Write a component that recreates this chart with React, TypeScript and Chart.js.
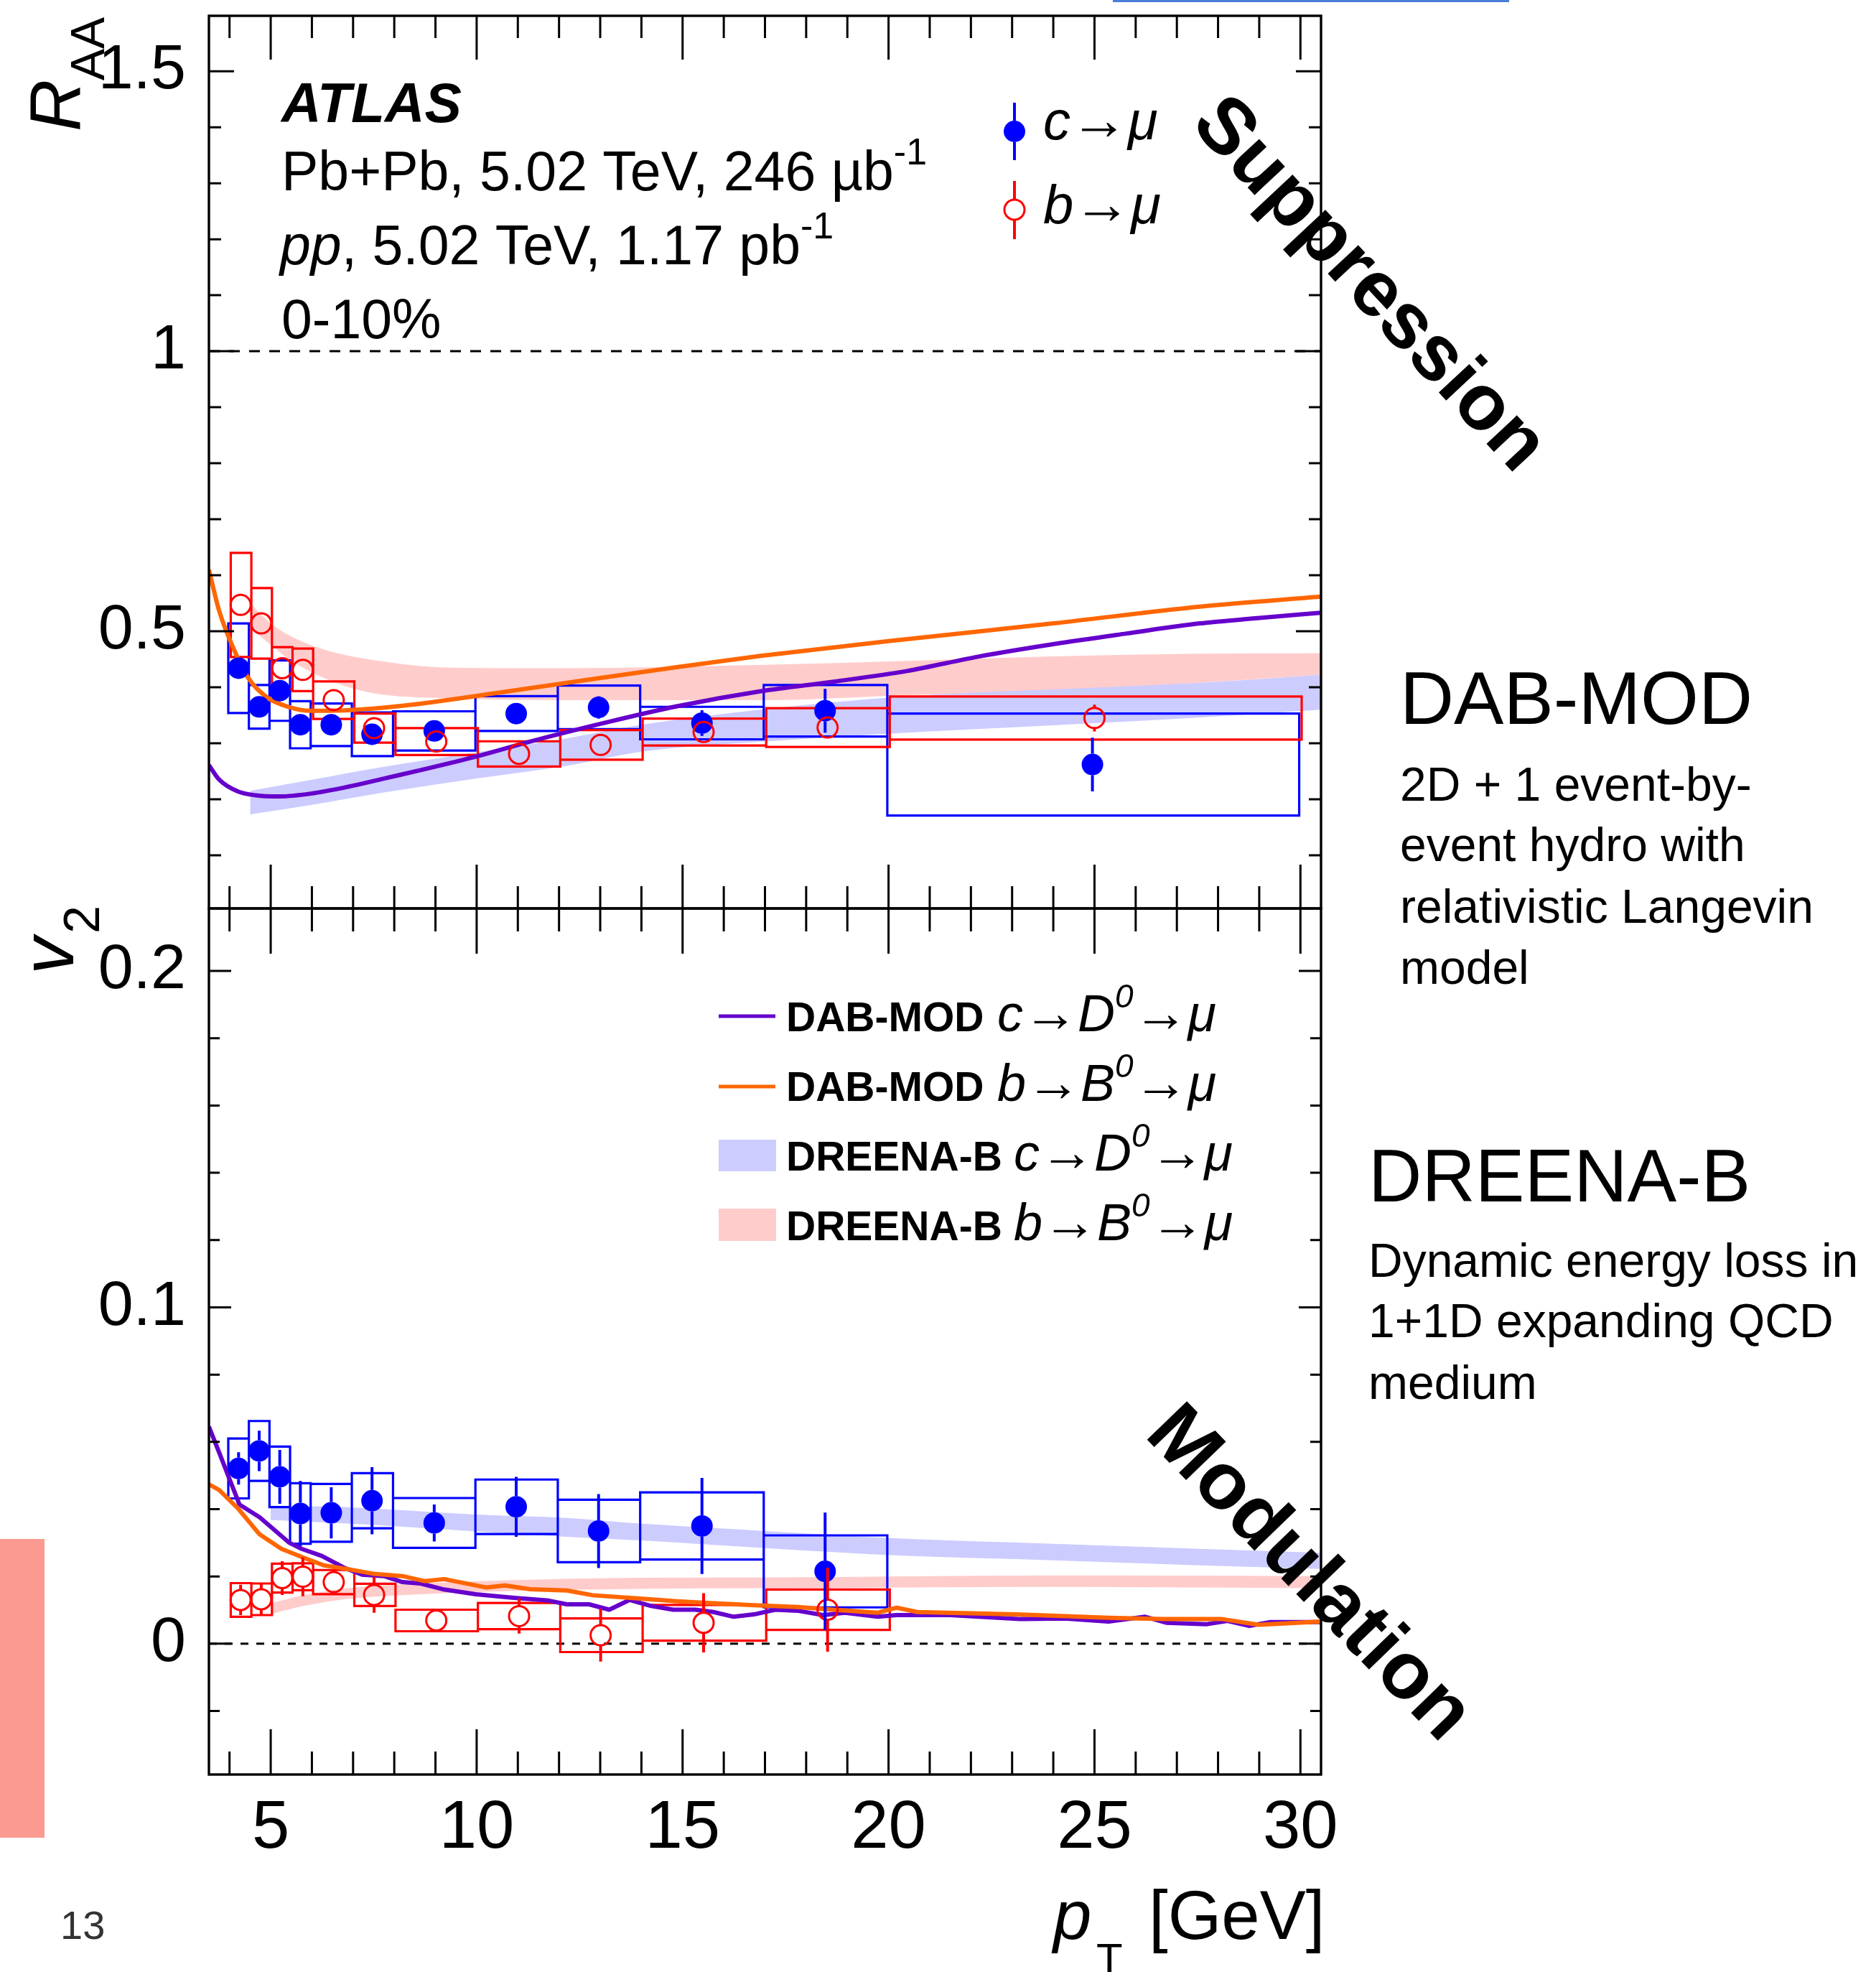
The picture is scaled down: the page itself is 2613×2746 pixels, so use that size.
import React, { useEffect, useRef } from 'react';
import { Chart, registerables } from 'chart.js';
Chart.register(...registerables);

// ---------- page / frame layout ----------
const PAGE_W = 2613;
const PAGE_H = 2746;
const FRAME_L = 291;
const FRAME_R = 1840;
const FRAME_T = 22;
const FRAME_MID = 1265;
const FRAME_B = 2471;

const PT_MIN = 3.5;
const PT_MAX = 30.5;
const RAA_MIN = 0.005;
const RAA_MAX = 1.599;
const V2_MIN = -0.0389;
const V2_MAX = 0.2186;

const FAM = "'Liberation Sans', Arimo, Arial, sans-serif";
const F = (style: string, size: number) => `${style} ${size}px ${FAM}`;

// ---------- data: R_AA ----------
const raaBinLo = [4, 4.5, 5, 5.5, 6, 7, 8, 10, 12, 14, 17, 20];
const raaBinHi = [4.5, 5, 5.5, 6, 7, 8, 10, 12, 14, 17, 20, 30];
const raaPtC = [4.22, 4.72, 5.22, 5.72, 6.47, 7.46, 8.97, 10.96, 12.96, 15.47, 18.46, 24.95];
const raaPtB = [4.27, 4.77, 5.28, 5.78, 6.53, 7.51, 9.02, 11.03, 13.01, 15.51, 18.52, 25.0];
const raaC = [0.434, 0.365, 0.394, 0.333, 0.333, 0.316, 0.322, 0.353, 0.364, 0.336, 0.358, 0.262];
const raaCStat = [0.012, 0.012, 0.012, 0.012, 0.012, 0.012, 0.012, 0.012, 0.02, 0.023, 0.039, 0.048];
const raaCSyst = [0.08, 0.039, 0.054, 0.042, 0.038, 0.039, 0.035, 0.031, 0.039, 0.029, 0.046, 0.091];
const raaB = [0.547, 0.514, 0.434, 0.431, 0.377, 0.327, 0.303, 0.281, 0.297, 0.32, 0.328, 0.345];
const raaBStat = [0.012, 0.012, 0.012, 0.012, 0.012, 0.012, 0.012, 0.012, 0.012, 0.012, 0.012, 0.024];
const raaBSyst = [0.093, 0.063, 0.0375, 0.038, 0.0335, 0.026, 0.024, 0.0225, 0.0265, 0.024, 0.0345, 0.0385];

// models R_AA
const dabCRaaPt = [3.5, 3.75, 4.2, 4.64, 5.22, 5.97, 6.86, 7.75, 8.64, 9.98, 11.3, 13.08, 14.86, 16.9, 18.67, 20.45, 22.2, 24.0, 25.78, 27.56, 28.9, 30.5];
const dabCRaa = [0.261, 0.235, 0.214, 0.207, 0.205, 0.21, 0.222, 0.237, 0.252, 0.276, 0.303, 0.336, 0.366, 0.393, 0.41, 0.429, 0.455, 0.477, 0.496, 0.514, 0.523, 0.533];
const dabBRaaPt = [3.5, 3.75, 4.11, 4.46, 4.91, 5.43, 5.97, 6.86, 8.2, 10.42, 12.2, 14.86, 16.9, 20.45, 24.0, 27.56, 30.5];
const dabBRaa = [0.61, 0.536, 0.467, 0.416, 0.382, 0.365, 0.358, 0.359, 0.367, 0.389, 0.408, 0.436, 0.456, 0.486, 0.514, 0.544, 0.562];
const drnCRaaPt = [4.5, 6.0, 7.75, 10.0, 12.2, 14.0, 17.0, 20.45, 24.0, 27.56, 30.5];
const drnCRaaLo = [0.173, 0.19, 0.212, 0.237, 0.26, 0.285, 0.303, 0.319, 0.332, 0.346, 0.36];
const drnCRaaHi = [0.215, 0.235, 0.258, 0.284, 0.309, 0.333, 0.361, 0.384, 0.396, 0.408, 0.422];
const drnBRaaPt = [4.5, 5.0, 5.44, 6.31, 7.37, 9.4, 12.2, 17.0, 20.45, 24.0, 27.56, 30.5];
const drnBRaaLo = [0.505, 0.476, 0.45, 0.416, 0.391, 0.38, 0.377, 0.377, 0.386, 0.394, 0.408, 0.422];
const drnBRaaHi = [0.55, 0.514, 0.493, 0.467, 0.45, 0.435, 0.434, 0.44, 0.447, 0.455, 0.46, 0.461];

// ---------- data: v2 ----------
const v2BinLo = [4, 4.5, 5, 5.5, 6, 7, 8, 10, 12, 14, 17];
const v2BinHi = [4.5, 5, 5.5, 6, 7, 8, 10, 12, 14, 17, 20];
const v2PtC = [4.22, 4.72, 5.22, 5.72, 6.47, 7.46, 8.97, 10.96, 12.96, 15.47, 18.46];
const v2PtB = [4.27, 4.77, 5.28, 5.78, 6.53, 7.51, 9.02, 11.03, 13.01, 15.51, 18.52];
const v2C = [0.0521, 0.0573, 0.0496, 0.0387, 0.0389, 0.0425, 0.0359, 0.0407, 0.0335, 0.035, 0.0215];
const v2CStat = [0.0048, 0.006, 0.008, 0.0097, 0.0076, 0.01, 0.0055, 0.0089, 0.011, 0.0143, 0.0175];
const v2CSyst = [0.0089, 0.0089, 0.009, 0.009, 0.0086, 0.0082, 0.0074, 0.0081, 0.0093, 0.01, 0.0107];
const v2B = [0.013, 0.0132, 0.0195, 0.0199, 0.0183, 0.0145, 0.0069, 0.0082, 0.0025, 0.0062, 0.0101];
const v2BStat = [0.0045, 0.0045, 0.005, 0.0058, 0.0035, 0.0053, 0.003, 0.0052, 0.0078, 0.0088, 0.0125];
const v2BSyst = [0.005, 0.0047, 0.0043, 0.004, 0.0036, 0.0033, 0.0032, 0.0039, 0.005, 0.0053, 0.006];

// models v2
const dabCV2Pt = [3.5, 3.75, 4.24, 4.73, 5.44, 5.75, 6.24, 6.78, 7.22, 7.75, 8.2, 8.64, 9.17, 9.98, 10.86, 11.75, 12.19, 12.73, 13.22, 13.71, 14.24, 14.77, 15.31, 15.75, 16.24, 16.73, 17.25, 17.79, 18.41, 18.94, 19.74, 20.19, 21.5, 23.2, 24.28, 25.34, 26.23, 26.76, 27.73, 28.23, 28.76, 29.25, 30.5];
const dabCV2 = [0.0645, 0.0568, 0.0414, 0.0376, 0.0301, 0.0282, 0.0261, 0.0226, 0.0205, 0.0201, 0.0183, 0.0179, 0.0162, 0.0147, 0.0137, 0.0128, 0.0117, 0.0117, 0.0101, 0.013, 0.0112, 0.0101, 0.0101, 0.0094, 0.008, 0.0087, 0.0101, 0.0098, 0.0085, 0.0092, 0.008, 0.0085, 0.0085, 0.0073, 0.0075, 0.0066, 0.008, 0.0062, 0.0058, 0.0068, 0.0053, 0.0064, 0.0064];
const dabBV2Pt = [3.5, 3.75, 4.2, 4.73, 5.26, 5.75, 6.29, 6.86, 7.49, 8.2, 8.73, 9.21, 10.24, 10.69, 11.3, 12.19, 12.82, 13.97, 14.86, 15.75, 16.64, 17.79, 18.67, 19.74, 20.2, 20.7, 23.1, 25.34, 26.67, 28.1, 28.99, 30.5];
const dabBV2 = [0.0474, 0.0457, 0.0403, 0.0325, 0.0282, 0.0258, 0.0233, 0.0222, 0.0208, 0.0201, 0.0186, 0.0192, 0.0167, 0.0173, 0.0162, 0.0158, 0.0144, 0.0134, 0.0126, 0.012, 0.0115, 0.0109, 0.0101, 0.0092, 0.0107, 0.0094, 0.0087, 0.0077, 0.0073, 0.0073, 0.0056, 0.0066];
const drnCV2Pt = [5.0, 6.86, 9.98, 12.19, 13.97, 17.0, 20.45, 24.0, 27.56, 30.5];
const drnCV2Lo = [0.0368, 0.0357, 0.0334, 0.0318, 0.0307, 0.0284, 0.0261, 0.0248, 0.0233, 0.0222];
const drnCV2Hi = [0.041, 0.0406, 0.0384, 0.0374, 0.0357, 0.0335, 0.0312, 0.0297, 0.0282, 0.027];
const drnBV2Pt = [5.0, 5.8, 6.86, 8.64, 11.3, 13.97, 17.0, 24.0, 30.5];
const drnBV2Lo = [0.0088, 0.0112, 0.0133, 0.0147, 0.0158, 0.0163, 0.0165, 0.0169, 0.0165];
const drnBV2Hi = [0.012, 0.0144, 0.0165, 0.0179, 0.019, 0.0196, 0.0197, 0.0203, 0.0201];

// ---------- styles ----------
const BLUE = '#0000ff';
const RED = '#ff0000';
const PURPLE = '#6600cc';
const ORANGE = '#ff6600';
const BAND_BLUE = '#ccccff';
const BAND_PINK = '#ffcccc';
const MARKER_R = 15;
const BOX_SHIFT_C = -0.03;
const BOX_SHIFT_B = 0.03;

const zip = (xs: number[], ys: number[]) => xs.map((x, i) => ({ x, y: ys[i] }));

function boxPath(lo: number[], hi: number[], v: number[], s: number[], shift: number) {
  const pts: { x: number; y: number | null }[] = [];
  for (let i = 0; i < v.length; i++) {
    const x0 = lo[i] + shift, x1 = hi[i] + shift;
    const y0 = v[i] - s[i], y1 = v[i] + s[i];
    pts.push({ x: x0, y: y0 }, { x: x1, y: y0 }, { x: x1, y: y1 }, { x: x0, y: y1 }, { x: x0, y: y0 }, { x: x1, y: y0 }, { x: x1, y: null });
  }
  return pts;
}

function bandSets(pt: number[], lo: number[], hi: number[], color: string, smooth: boolean) {
  const common: any = {
    type: 'line', pointRadius: 0, borderWidth: 1, borderColor: 'rgba(0,0,0,0)', order: 10,
    cubicInterpolationMode: smooth ? 'monotone' : 'default',
  };
  return [
    { ...common, data: zip(pt, lo), fill: false },
    { ...common, data: zip(pt, hi), fill: '-1', backgroundColor: color },
  ];
}

function lineSet(pt: number[], v: number[], color: string, smooth: boolean) {
  return {
    type: 'line', data: zip(pt, v), borderColor: color, borderWidth: 6, pointRadius: 0, fill: false, order: 3,
    cubicInterpolationMode: smooth ? 'monotone' : 'default', borderJoinStyle: 'round',
  };
}

function boxSet(lo: number[], hi: number[], v: number[], s: number[], shift: number, color: string, order: number) {
  return {
    type: 'line', data: boxPath(lo, hi, v, s, shift), borderColor: color, borderWidth: 3.2, pointRadius: 0,
    fill: false, spanGaps: false, order, borderJoinStyle: 'miter',
  };
}

function markerSet(pt: number[], v: number[], filled: boolean, color: string, order: number) {
  return {
    type: 'line', data: zip(pt, v), showLine: false, order,
    pointRadius: filled ? MARKER_R : MARKER_R - 1,
    pointBackgroundColor: filled ? color : 'rgba(255,255,255,0)',
    pointBorderColor: color, pointBorderWidth: filled ? 0 : 3,
  };
}

type Series = { x: number[]; v: number[]; s: number[]; color: string };
function errorBarPlugin(id: string, series: Series[]) {
  return {
    id,
    afterDatasetsDraw(chart: any) {
      const { ctx, scales } = chart;
      ctx.save();
      ctx.lineWidth = 4;
      for (const ser of series) {
        ctx.strokeStyle = ser.color;
        ser.x.forEach((xv, i) => {
          const px = scales.x.getPixelForValue(xv);
          const pc = scales.y.getPixelForValue(ser.v[i]);
          const pt = scales.y.getPixelForValue(ser.v[i] + ser.s[i]);
          const pb = scales.y.getPixelForValue(ser.v[i] - ser.s[i]);
          ctx.beginPath();
          if (pc - pt > MARKER_R) { ctx.moveTo(px, pt); ctx.lineTo(px, pc - MARKER_R); }
          if (pb - pc > MARKER_R) { ctx.moveTo(px, pc + MARKER_R); ctx.lineTo(px, pb); }
          ctx.stroke();
        });
      }
      ctx.restore();
    },
  };
}

type FrameOpts = {
  dashAt: number; dash: number[];
  yTicks: number[]; yMajor: (k: number) => boolean;
  xMaj: number; xMin: number; yMaj: number; yMin: number;
};
function framePlugin(id: string, o: FrameOpts) {
  return {
    id,
    beforeDatasetsDraw(chart: any) {
      const { ctx, chartArea: a, scales } = chart;
      const py = scales.y.getPixelForValue(o.dashAt);
      ctx.save();
      ctx.setLineDash(o.dash);
      ctx.lineWidth = 3;
      ctx.strokeStyle = '#000';
      ctx.beginPath();
      ctx.moveTo(a.left, py);
      ctx.lineTo(a.right, py);
      ctx.stroke();
      ctx.restore();
    },
    afterDatasetsDraw(chart: any) {
      const { ctx, chartArea: a, scales } = chart;
      ctx.save();
      ctx.strokeStyle = '#000';
      ctx.lineWidth = 3.4;
      ctx.strokeRect(a.left, a.top, a.right - a.left, a.bottom - a.top);
      ctx.lineWidth = 3;
      ctx.beginPath();
      for (let v = 4; v <= 30; v++) {
        const px = scales.x.getPixelForValue(v);
        const len = v % 5 === 0 ? o.xMaj : o.xMin;
        ctx.moveTo(px, a.top); ctx.lineTo(px, a.top + len);
        ctx.moveTo(px, a.bottom); ctx.lineTo(px, a.bottom - len);
      }
      o.yTicks.forEach((v, k) => {
        const py = scales.y.getPixelForValue(v);
        const len = o.yMajor(k) ? o.yMaj : o.yMin;
        ctx.moveTo(a.left, py); ctx.lineTo(a.left + len, py);
        ctx.moveTo(a.right, py); ctx.lineTo(a.right - len, py);
      });
      ctx.stroke();
      ctx.restore();
    },
  };
}

type Run = { t: string; f: string; dy?: number; x?: number };
function drawRuns(ctx: CanvasRenderingContext2D, x0: number, y0: number, runs: Run[]) {
  let x = x0;
  for (const r of runs) {
    if (r.x !== undefined) x = r.x;
    ctx.font = r.f;
    ctx.fillText(r.t, x, y0 + (r.dy || 0));
    x += ctx.measureText(r.t).width;
  }
}

function legendMarker(ctx: CanvasRenderingContext2D, x: number, y: number, filled: boolean, color: string, top: number, bot: number) {
  ctx.strokeStyle = color;
  ctx.lineWidth = 4;
  ctx.beginPath();
  ctx.moveTo(x, top); ctx.lineTo(x, y - MARKER_R);
  ctx.moveTo(x, y + MARKER_R); ctx.lineTo(x, bot);
  ctx.stroke();
  ctx.beginPath();
  ctx.arc(x, y, filled ? MARKER_R : MARKER_R - 1, 0, Math.PI * 2);
  if (filled) { ctx.fillStyle = color; ctx.fill(); } else { ctx.lineWidth = 3; ctx.stroke(); }
}

const topTextPlugin = {
  id: 'topText',
  afterDraw(chart: any) {
    const ctx: CanvasRenderingContext2D = chart.ctx;
    ctx.save();
    ctx.fillStyle = '#000';
    ctx.textAlign = 'left';
    ctx.textBaseline = 'alphabetic';
    drawRuns(ctx, 392, 170, [{ t: 'ATLAS', f: F('italic bold', 77) }]);
    drawRuns(ctx, 392, 265, [{ t: 'Pb+Pb, 5.02 TeV, 246 \u00b5b', f: F('', 77) }, { t: '-1', f: F('', 52), dy: -36 }]);
    drawRuns(ctx, 390, 368, [{ t: 'pp', f: F('italic', 77) }, { t: ', 5.02 TeV, 1.17 pb', f: F('', 77) }, { t: '-1', f: F('', 52), dy: -36 }]);
    drawRuns(ctx, 392, 471, [{ t: '0-10%', f: F('', 77) }]);

    // legend (data)
    legendMarker(ctx, 1413, 183, true, BLUE, 143, 223);
    legendMarker(ctx, 1413, 292, false, RED, 252, 333);
    ctx.fillStyle = '#000';
    drawRuns(ctx, 1453, 194, [{ t: 'c', f: F('italic', 76) }, { t: '\u2192', f: F('', 80) }, { t: '\u03bc', f: F('italic', 76) }]);
    drawRuns(ctx, 1453, 311, [{ t: 'b', f: F('italic', 76) }, { t: '\u2192', f: F('', 80) }, { t: '\u03bc', f: F('italic', 76) }]);

    // y title R_AA
    ctx.save();
    ctx.translate(112, 183);
    ctx.rotate(-Math.PI / 2);
    drawRuns(ctx, 0, 0, [{ t: 'R', f: F('italic', 100) }]);
    drawRuns(ctx, 71, 33, [{ t: 'AA', f: F('', 66) }]);
    ctx.restore();
    ctx.restore();
  },
};

const botTextPlugin = {
  id: 'botText',
  afterDraw(chart: any) {
    const ctx: CanvasRenderingContext2D = chart.ctx;
    ctx.save();
    ctx.textAlign = 'left';
    ctx.textBaseline = 'alphabetic';

    // model legend
    ctx.lineWidth = 5;
    ctx.strokeStyle = PURPLE;
    ctx.beginPath(); ctx.moveTo(1001, 1415); ctx.lineTo(1080, 1415); ctx.stroke();
    ctx.strokeStyle = ORANGE;
    ctx.beginPath(); ctx.moveTo(1001, 1513); ctx.lineTo(1080, 1513); ctx.stroke();
    ctx.fillStyle = BAND_BLUE;
    ctx.fillRect(1001, 1587, 80, 44);
    ctx.fillStyle = BAND_PINK;
    ctx.fillRect(1001, 1683, 80, 45);
    ctx.fillStyle = '#000';
    const it = F('italic', 72), rg = F('', 76), sup = F('italic', 46), bd = F('bold', 57);
    const chain = (q: string, h: string, x: number): Run[] => [
      { t: q, f: it, x }, { t: '\u2192', f: rg }, { t: h, f: it }, { t: '0', f: sup, dy: -33 },
      { t: '\u2192', f: rg }, { t: '\u03bc', f: it },
    ];
    drawRuns(ctx, 1095, 1436, [{ t: 'DAB-MOD', f: bd }, ...chain('c', 'D', 1389)]);
    drawRuns(ctx, 1095, 1533, [{ t: 'DAB-MOD', f: bd }, ...chain('b', 'B', 1389)]);
    drawRuns(ctx, 1095, 1630, [{ t: 'DREENA-B', f: bd }, ...chain('c', 'D', 1412)]);
    drawRuns(ctx, 1095, 1727, [{ t: 'DREENA-B', f: bd }, ...chain('b', 'B', 1412)]);

    // v2 title
    ctx.save();
    ctx.translate(102, 1357);
    ctx.rotate(-Math.PI / 2);
    drawRuns(ctx, 0, 0, [{ t: 'v', f: F('italic', 104) }]);
    drawRuns(ctx, 57, 36, [{ t: '2', f: F('', 70) }]);
    ctx.restore();

    // x title
    drawRuns(ctx, 1467, 2700, [{ t: 'p', f: F('italic', 96) }]);
    drawRuns(ctx, 1527, 2748, [{ t: 'T', f: F('', 60) }]);
    drawRuns(ctx, 1600, 2700, [{ t: '[GeV]', f: F('', 96) }]);

    // right-side annotations
    drawRuns(ctx, 1950, 1008, [{ t: 'DAB-MOD', f: F('', 104) }]);
    const d1 = ['2D + 1 event-by-', 'event hydro with', 'relativistic Langevin', 'model'];
    const b1 = [1115, 1199, 1285, 1370];
    d1.forEach((s, i) => drawRuns(ctx, 1950, b1[i], [{ t: s, f: F('', 66) }]));
    drawRuns(ctx, 1906, 1673, [{ t: 'DREENA-B', f: F('', 103) }]);
    const d2 = ['Dynamic energy loss in', '1+1D expanding QCD', 'medium'];
    const b2 = [1778, 1862, 1948];
    d2.forEach((s, i) => drawRuns(ctx, 1906, b2[i], [{ t: s, f: F('', 66) }]));

    // rotated labels
    ctx.textAlign = 'center';
    ctx.save();
    ctx.translate(1884, 418);
    ctx.rotate((47 * Math.PI) / 180);
    ctx.font = F('bold', 110);
    ctx.fillText('Suppression', 0, 0);
    ctx.restore();
    ctx.save();
    ctx.translate(1800, 2214);
    ctx.rotate((46 * Math.PI) / 180);
    ctx.font = F('bold', 112);
    ctx.fillText('Modulation', 0, 0);
    ctx.restore();
    ctx.textAlign = 'left';

    // slide decorations
    ctx.fillStyle = '#333';
    ctx.font = F('', 56);
    ctx.fillText('13', 84, 2700);
    ctx.fillStyle = '#fa9a90';
    ctx.fillRect(0, 2143, 62, 416);
    ctx.fillStyle = '#4a7dd8';
    ctx.fillRect(1550, 0, 552, 3);
    ctx.restore();
  },
};

const fmt = (v: any) => String(Math.round(Number(v) * 10) / 10);

function yScale(min: number, max: number, step: number) {
  return {
    type: 'linear', min, max,
    grid: { display: false, drawTicks: false }, border: { display: false },
    ticks: { stepSize: step, includeBounds: false, color: '#000', padding: 32, font: { family: FAM, size: 88 }, callback: fmt },
    afterFit: (s: any) => { s.width = FRAME_L; s.paddingTop = 0; s.paddingBottom = 0; },
  };
}

function topConfig(): any {
  return {
    type: 'line',
    data: {
      datasets: [
        ...bandSets(drnCRaaPt, drnCRaaLo, drnCRaaHi, BAND_BLUE, true),
        ...bandSets(drnBRaaPt, drnBRaaLo, drnBRaaHi, BAND_PINK, true),
        boxSet(raaBinLo, raaBinHi, raaC, raaCSyst, BOX_SHIFT_C, BLUE, 6),
        boxSet(raaBinLo, raaBinHi, raaB, raaBSyst, BOX_SHIFT_B, RED, 5),
        lineSet(dabCRaaPt, dabCRaa, PURPLE, true),
        lineSet(dabBRaaPt, dabBRaa, ORANGE, true),
        markerSet(raaPtC, raaC, true, BLUE, 1),
        markerSet(raaPtB, raaB, false, RED, 0),
      ],
    },
    options: {
      animation: false, responsive: false, devicePixelRatio: 1, events: [],
      layout: { autoPadding: false, padding: { left: 0, top: FRAME_T, right: PAGE_W - FRAME_R, bottom: PAGE_H - FRAME_MID } },
      plugins: { legend: { display: false }, tooltip: { enabled: false }, title: { display: false } },
      scales: {
        x: { type: 'linear', min: PT_MIN, max: PT_MAX, display: false },
        y: yScale(RAA_MIN, RAA_MAX, 0.5),
      },
    },
    plugins: [
      framePlugin('frameTop', {
        dashAt: 1, dash: [15, 13],
        yTicks: Array.from({ length: 15 }, (_, k) => (k + 1) / 10), yMajor: (k) => (k + 1) % 5 === 0,
        xMaj: 61, xMin: 31, yMaj: 35, yMin: 17,
      }),
      errorBarPlugin('errTop', [
        { x: raaPtC, v: raaC, s: raaCStat, color: BLUE },
        { x: raaPtB, v: raaB, s: raaBStat, color: RED },
      ]),
      topTextPlugin,
    ],
  };
}

function botConfig(): any {
  return {
    type: 'line',
    data: {
      datasets: [
        ...bandSets(drnCV2Pt, drnCV2Lo, drnCV2Hi, BAND_BLUE, true),
        ...bandSets(drnBV2Pt, drnBV2Lo, drnBV2Hi, BAND_PINK, true),
        boxSet(v2BinLo, v2BinHi, v2C, v2CSyst, BOX_SHIFT_C, BLUE, 6),
        boxSet(v2BinLo, v2BinHi, v2B, v2BSyst, BOX_SHIFT_B, RED, 5),
        lineSet(dabBV2Pt, dabBV2, ORANGE, false),
        lineSet(dabCV2Pt, dabCV2, PURPLE, false),
        markerSet(v2PtC, v2C, true, BLUE, 1),
        markerSet(v2PtB, v2B, false, RED, 0),
      ],
    },
    options: {
      animation: false, responsive: false, devicePixelRatio: 1, events: [],
      layout: { autoPadding: false, padding: { left: 0, top: FRAME_MID, right: PAGE_W - FRAME_R, bottom: 0 } },
      plugins: { legend: { display: false }, tooltip: { enabled: false }, title: { display: false } },
      scales: {
        x: {
          type: 'linear', min: PT_MIN, max: PT_MAX,
          grid: { display: false, drawTicks: false }, border: { display: false },
          ticks: { stepSize: 5, includeBounds: false, color: '#000', padding: 20, maxRotation: 0, font: { family: FAM, size: 94 }, callback: (v: any) => String(v) },
          afterFit: (s: any) => { s.height = PAGE_H - FRAME_B; s.paddingLeft = 0; s.paddingRight = 0; },
        },
        y: yScale(V2_MIN, V2_MAX, 0.1),
      },
    },
    plugins: [
      framePlugin('frameBot', {
        dashAt: 0, dash: [11, 11],
        yTicks: Array.from({ length: 12 }, (_, k) => (k - 1) / 50), yMajor: (k) => (k - 1) % 5 === 0,
        xMaj: 63, xMin: 32, yMaj: 31, yMin: 15,
      }),
      errorBarPlugin('errBot', [
        { x: v2PtC, v: v2C, s: v2CStat, color: BLUE },
        { x: v2PtB, v: v2B, s: v2BStat, color: RED },
      ]),
      botTextPlugin,
    ],
  };
}

export default function App() {
  const topRef = useRef<HTMLCanvasElement | null>(null);
  const botRef = useRef<HTMLCanvasElement | null>(null);
  useEffect(() => {
    const c1 = new Chart(topRef.current as HTMLCanvasElement, topConfig());
    const c2 = new Chart(botRef.current as HTMLCanvasElement, botConfig());
    return () => { c1.destroy(); c2.destroy(); };
  }, []);
  const cs: React.CSSProperties = { position: 'absolute', left: 0, top: 0 };
  return (
    <div style={{ position: 'absolute', left: 0, top: 0, width: PAGE_W, height: PAGE_H, background: '#fff', overflow: 'hidden' }}>
      <canvas ref={topRef} width={PAGE_W} height={PAGE_H} style={cs} />
      <canvas ref={botRef} width={PAGE_W} height={PAGE_H} style={cs} />
    </div>
  );
}
